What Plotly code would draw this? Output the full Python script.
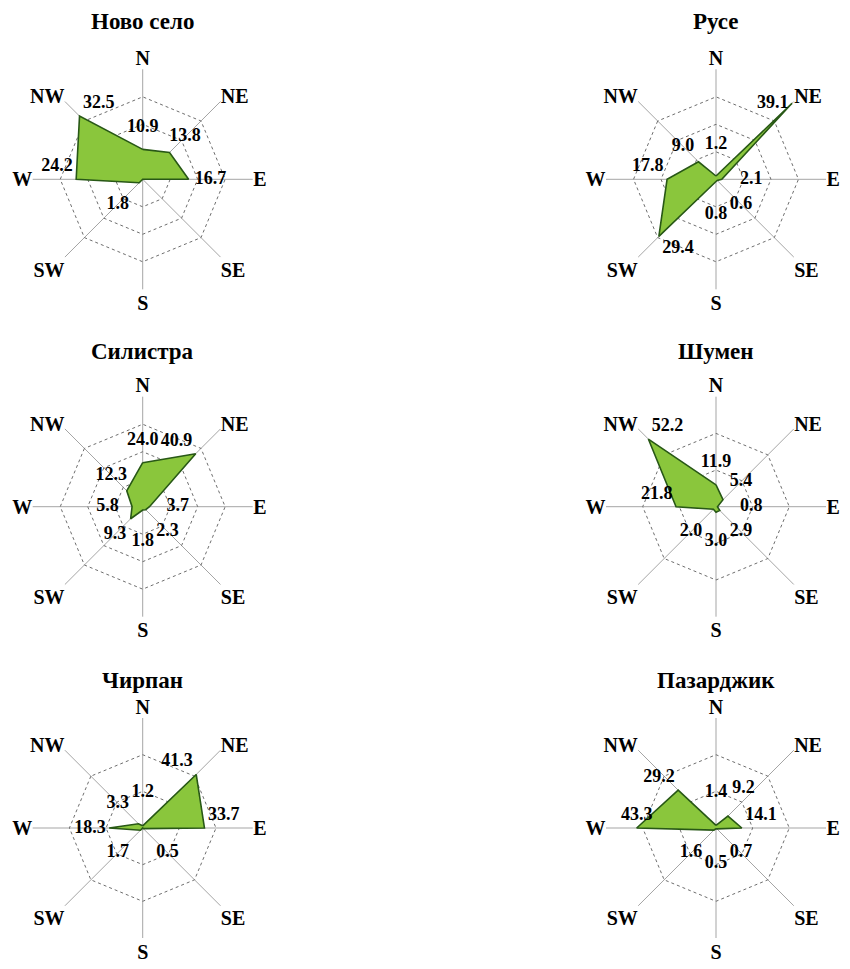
import plotly.graph_objects as go

directions = ["N", "NE", "E", "SE", "S", "SW", "W", "NW"]

stations = ["Ново село", "Русе", "Силистра", "Шумен", "Чирпан", "Пазарджик"]

novo_selo = [10.9, 13.8, 16.7, 0.0, 0.0, 1.8, 24.2, 32.5]
ruse = [1.2, 39.1, 2.1, 0.6, 0.8, 29.4, 17.8, 9.0]
silistra = [24.0, 40.9, 3.7, 2.3, 1.8, 9.3, 5.8, 12.3]
shumen = [11.9, 5.4, 0.8, 2.9, 3.0, 2.0, 21.8, 52.2]
chirpan = [1.2, 41.3, 33.7, 0.5, 0.0, 1.7, 18.3, 3.3]
pazardzhik = [1.4, 9.2, 14.1, 0.7, 0.5, 1.6, 43.3, 29.2]

series = [novo_selo, ruse, silistra, shumen, chirpan, pazardzhik]
radial_max = [40, 40, 60, 60, 60, 60]
radial_step = [10, 10, 15, 20, 20, 20]

# ---- styles / layout (not data) ----
MC = "middle center"
TL, TR, TC, ML, BR = "top left", "top right", "top center", "middle left", "bottom right"
label_pos = [
    [MC, MC, MC, MC, MC, MC, TL, TR],
    [MC, ML, MC, MC, MC, BR, TL, MC],
    [MC, TL, MC, MC, MC, MC, MC, MC],
    [MC, MC, MC, MC, MC, MC, TL, TR],
    [MC, TL, TR, MC, MC, MC, ML, MC],
    [MC, TC, TR, MC, MC, MC, TC, TL],
]
# whether a label is pushed outward along its spoke
label_push = [
    [1, 1, 1, 1, 1, 1, 0, 0],
    [1, 0, 1, 1, 1, 0, 0, 1],
    [1, 0, 1, 1, 1, 1, 1, 1],
    [1, 1, 1, 1, 1, 1, 0, 0],
    [1, 0, 0, 1, 1, 1, 0, 1],
    [1, 1, 0, 1, 1, 1, 0, 0],
]
LABEL_MIN_FRAC = 0.12
LABEL_PAD_FRAC = 0.20

W, H = 834, 953   # page body has an 8px margin
R = 110
col_x = [134.7, 708.0]
row_y = [171.3, 498.7, 820.0]
title_gap = [158.0, 155.5, 147.0]

FONT = "Liberation Serif, Times New Roman, serif"
fill_col = "rgb(138,198,60)"
line_col = "rgb(40,88,22)"

fig = go.Figure()
annotations = []
for i, (name, vals) in enumerate(zip(stations, series)):
    pid = "polar" if i == 0 else f"polar{i+1}"
    rmax = radial_max[i]
    fig.add_trace(go.Scatterpolar(
        r=vals + [vals[0]],
        theta=directions + [directions[0]],
        mode="lines",
        fill="toself",
        fillcolor=fill_col,
        line=dict(color=line_col, width=1.6),
        subplot=pid,
        showlegend=False,
        hoverinfo="skip",
    ))
    r_lab = [
        (max(v, LABEL_MIN_FRAC * rmax) + LABEL_PAD_FRAC * rmax) if push else v
        for v, push in zip(vals, label_push[i])
    ]
    texts = [("" if v == 0 else f"{v:.1f}") for v in vals]
    fig.add_trace(go.Scatterpolar(
        r=r_lab,
        theta=directions,
        mode="markers+text",
        marker=dict(size=4, color="rgba(0,0,0,0)"),
        text=texts,
        textposition=label_pos[i],
        textfont=dict(family=FONT, size=18, color="black", weight="bold"),
        subplot=pid,
        showlegend=False,
        hoverinfo="skip",
        cliponaxis=False,
    ))
    cx = col_x[i % 2]
    cy = row_y[i // 2]
    dom_x = [(cx - R) / W, (cx + R) / W]
    dom_y = [(H - cy - R) / H, (H - cy + R) / H]
    fig.layout[pid] = dict(
        domain=dict(x=dom_x, y=dom_y),
        gridshape="linear",
        bgcolor="white",
        radialaxis=dict(
            range=[0, rmax * 1.0005],
            tickvals=list(range(radial_step[i], rmax + 1, radial_step[i])),
            showticklabels=False,
            ticks="",
            showline=False,
            gridcolor="rgb(110,110,110)",
            griddash="dot",
            gridwidth=1,
            angle=90,
        ),
        angularaxis=dict(
            categoryorder="array",
            categoryarray=directions,
            rotation=90,
            direction="clockwise",
            showline=False,
            gridcolor="rgb(165,165,165)",
            gridwidth=1.2,
            ticks="",
            tickfont=dict(family=FONT, size=20, color="black", weight="bold"),
        ),
    )
    annotations.append(dict(
        text=f"<b>{name}</b>",
        x=cx / W, y=(H - (cy - title_gap[i // 2])) / H,
        xref="paper", yref="paper",
        xanchor="center", yanchor="middle",
        showarrow=False,
        font=dict(family=FONT, size=23, color="black"),
    ))

fig.update_layout(
    width=W, height=H,
    margin=dict(l=0, r=0, t=0, b=0),
    paper_bgcolor="white",
    plot_bgcolor="white",
    annotations=annotations,
)

fig.write_html("out.html")
